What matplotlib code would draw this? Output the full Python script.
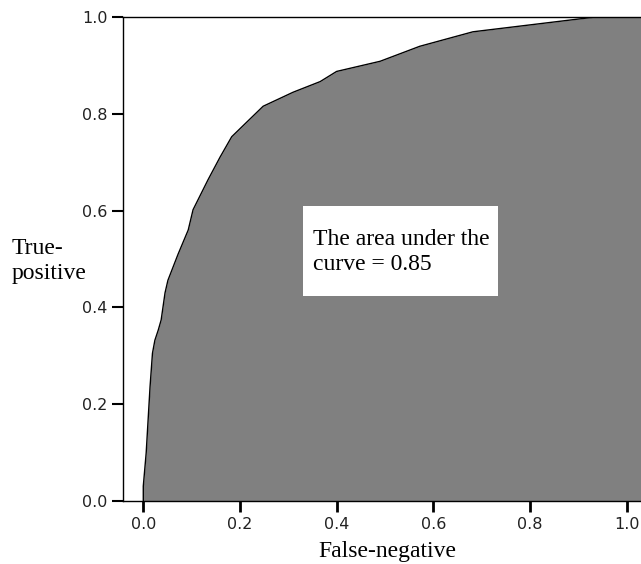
import matplotlib
matplotlib.use("Agg")
import matplotlib.pyplot as plt
from matplotlib.patches import Rectangle
import numpy as np

# ROC curve values
fpr = [0.0, 0.0, 0.006, 0.014, 0.019, 0.024, 0.031, 0.037, 0.045, 0.051,
       0.072, 0.093, 0.103, 0.134, 0.159, 0.183, 0.248, 0.31, 0.366, 0.40,
       0.49, 0.572, 0.682, 0.806, 0.93, 1.0]
tpr = [0.0, 0.03, 0.099, 0.236, 0.305, 0.332, 0.353, 0.374, 0.43, 0.456,
       0.51, 0.56, 0.602, 0.664, 0.711, 0.753, 0.816, 0.845, 0.867, 0.888,
       0.909, 0.94, 0.97, 0.985, 1.0, 1.0]
tick_vals = [0.0, 0.2, 0.4, 0.6, 0.8, 1.0]
tick_labels = ["0.0", "0.2", "0.4", "0.6", "0.8", "1.0"]
annotation = "The area under the\ncurve = 0.85"
xlabel = "False-negative"
ylabel = "True-\npositive"

W, H = 641, 564
fig = plt.figure(figsize=(W / 100, H / 100), dpi=100)
fig.patch.set_facecolor("white")

left_px, right_px, top_px, bottom_px = 122.7, 641, 17.3, 500.7
ax = fig.add_axes([left_px / W, 1 - bottom_px / H,
                   (right_px - left_px) / W, (bottom_px - top_px) / H])

XMIN, XMAX = -0.0426, 1.0298
ax.set_xlim(XMIN, XMAX)
ax.set_ylim(0, 1)

fx = np.append(fpr, XMAX)
fy = np.append(tpr, tpr[-1])
ax.fill_between(fx, fy, 0, color="#808080", linewidth=0, zorder=1)
ax.plot(fpr, tpr, color="black", linewidth=1.0, zorder=2)

# annotation box
ax.add_patch(Rectangle((0.330, 0.424), 0.4035, 0.186, facecolor="white",
                       edgecolor="none", zorder=3))
ax.text(0.352, 0.514, annotation, fontfamily="Liberation Serif", fontsize=17,
        va="center", ha="left", linespacing=1.25, zorder=4)

ax.spines["right"].set_visible(False)
for s in ["left", "bottom", "top"]:
    ax.spines[s].set_linewidth(1.0)
    ax.spines[s].set_color("black")

ax.set_xticks(tick_vals)
ax.set_xticklabels(tick_labels)
ax.set_yticks(tick_vals)
ax.set_yticklabels(tick_labels)
ax.tick_params(axis="x", direction="out", length=8, width=2.0, pad=4,
               labelsize=11.5, colors="black")
ax.tick_params(axis="y", direction="out", length=8, width=1.5, pad=3,
               labelsize=11.5, colors="black")
for lab in ax.get_xticklabels() + ax.get_yticklabels():
    lab.set_fontfamily("DejaVu Sans")
    lab.set_color("#222222")

fig.text(387.5 / W, 1 - 551 / H, xlabel, fontfamily="Liberation Serif",
         fontsize=17, ha="center", va="center")
fig.text(12 / W, 1 - 261 / H, ylabel, fontfamily="Liberation Serif",
         fontsize=17, ha="left", va="center", linespacing=1.25)

fig.savefig("out.png", dpi=100, facecolor="white")
